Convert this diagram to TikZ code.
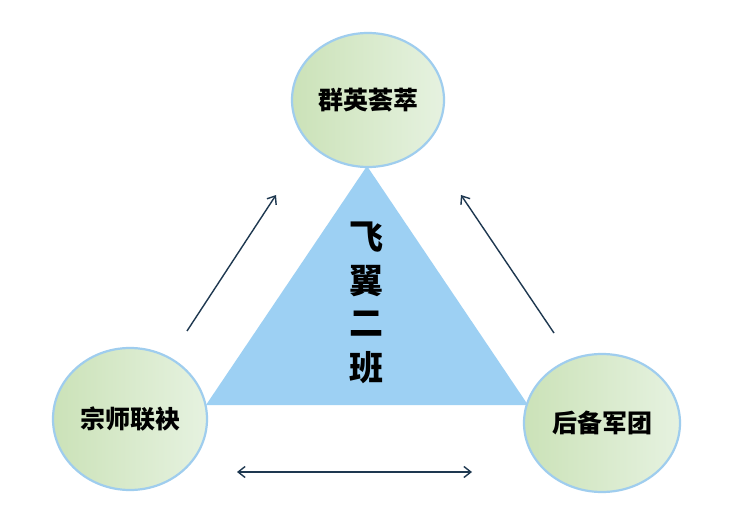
\documentclass[tikz,border=0pt]{standalone}
\usepackage{fontspec}
\setmainfont{Noto Sans CJK SC}
\usetikzlibrary{arrows.meta,shapes.geometric}
\definecolor{ringblue}{HTML}{9FCDEE}
\definecolor{greenL}{HTML}{CBE2B8}
\definecolor{greenR}{HTML}{E6F2E0}
\definecolor{triblue}{HTML}{9DD0F3}
\definecolor{arrowc}{HTML}{1E3850}
\tikzset{
  bubble/.style={ellipse, draw=ringblue, line width=2.2pt, left color=greenL, right color=greenR, font=\fontsize{25}{27}\selectfont\bfseries, text=black, inner sep=0pt},
  tip/.style={Straight Barb[length=7pt,width=11pt,line width=1.4pt]},
  link/.style={draw=arrowc, line width=1.4pt, -{Straight Barb[length=7pt,width=11pt,line width=1.4pt]}},
  biglabel/.style={font=\fontsize{34}{36}\selectfont\bfseries, text=black},
}
\begin{document}
\begin{tikzpicture}[x=1pt,y=-1pt]
\useasboundingbox[fill=white] (0,0) rectangle (753,524);
% triangle
\coordinate (apex) at (367,166);
\coordinate (bl) at (206,405);
\coordinate (br) at (528,405);
\fill[triblue] (apex) -- (bl) -- (br) -- cycle;
% ellipses
\node[bubble, minimum width=152pt, minimum height=134pt] (top) at (368,100) {群英荟萃};
\node[bubble, minimum width=154pt, minimum height=142pt] (left) at (130,419) {宗师联袂};
\node[bubble, minimum width=156pt, minimum height=138pt] (right) at (602,423) {后备军团};
% center text
\node[biglabel] (c1) at (366,237) {飞};
\node[biglabel] (c2) at (366,281) {翼};
\node[biglabel] (c3) at (366,324) {二};
\node[biglabel] (c4) at (366,368) {班};
% arrows
\coordinate (la) at (187,331);
\coordinate (lb) at (276,195);
\coordinate (ra) at (554,333);
\coordinate (rb) at (461,195);
\coordinate (ba) at (237,472);
\coordinate (bb) at (472,472);
\draw[link] (la) -- (lb);
\draw[link] (ra) -- (rb);
\draw[draw=arrowc, line width=1.4pt, {Straight Barb[length=7pt,width=11pt,line width=1.4pt]}-{Straight Barb[length=7pt,width=11pt,line width=1.4pt]}] (ba) -- (bb);
\end{tikzpicture}
\end{document}
